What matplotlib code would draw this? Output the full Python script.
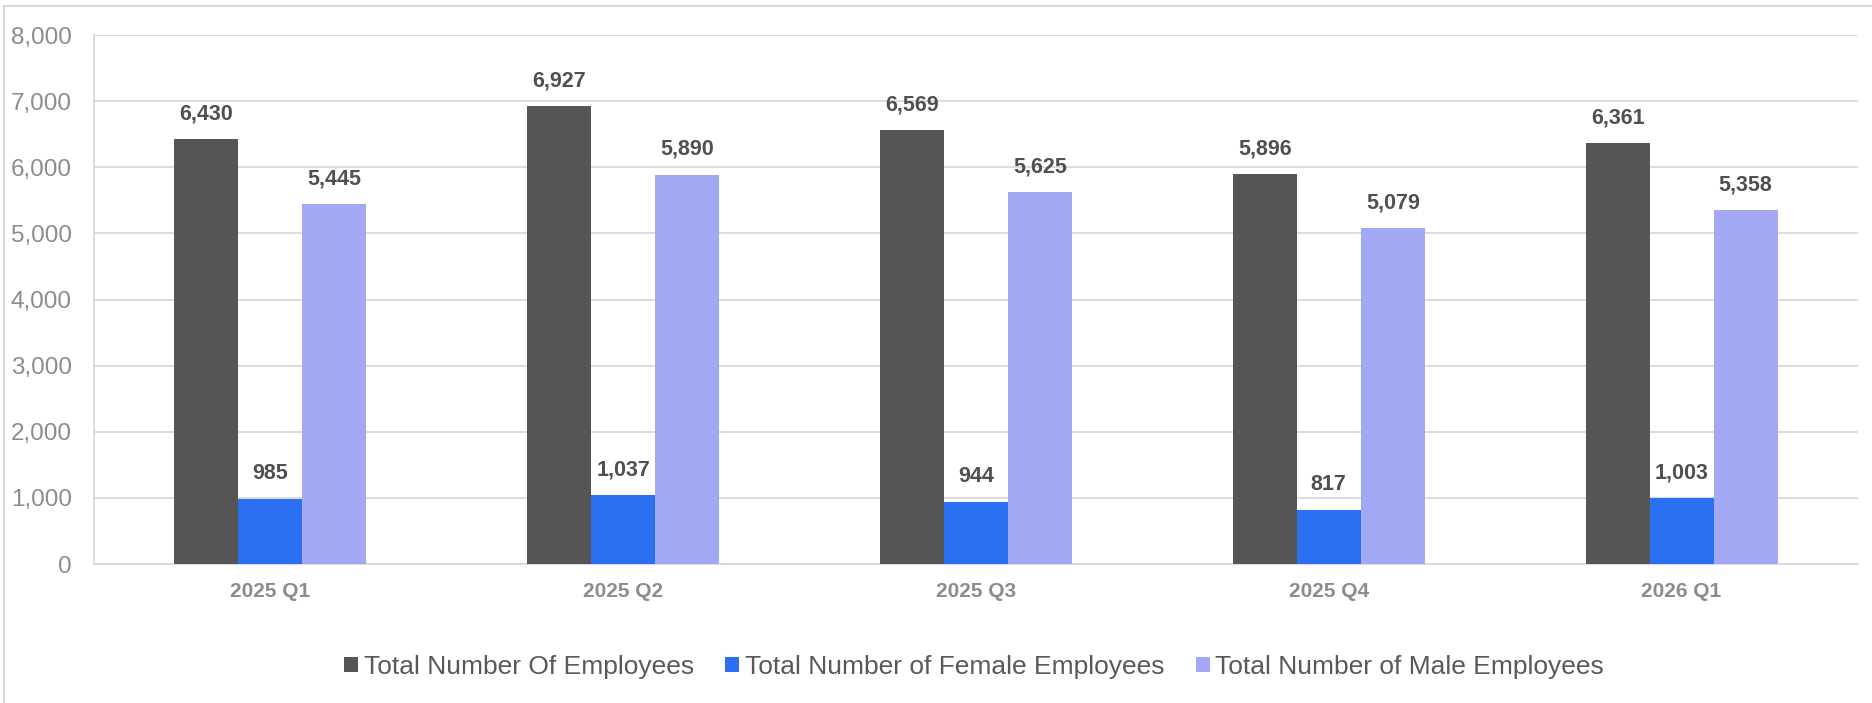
import matplotlib
matplotlib.use('Agg')
import matplotlib.pyplot as plt
from matplotlib.lines import Line2D
from matplotlib.ticker import FuncFormatter
import numpy as np

plt.rcParams['font.family'] = 'Liberation Sans'

quarters = ['2025 Q1', '2025 Q2', '2025 Q3', '2025 Q4', '2026 Q1']
total = [6430, 6927, 6569, 5896, 6361]
female = [985, 1037, 944, 817, 1003]
male = [5445, 5890, 5625, 5079, 5358]

series_names = ['Total Number Of Employees',
                'Total Number of Female Employees',
                'Total Number of Male Employees']
colors = ['#555555', '#2b6ff3', '#a3a8f4']

fig = plt.figure(figsize=(18.72, 7.03), dpi=100)
ax = fig.add_axes([0.0502, 0.1977, 0.9423, 0.7525])

x = np.arange(len(quarters))
w = 0.1814
bars = []
for k, (vals, name, c) in enumerate(zip([total, female, male], series_names, colors)):
    b = ax.bar(x + (k - 1) * w, vals, width=w, color=c, label=name, zorder=3)
    bars.append(b)
    for xi, v in zip(x + (k - 1) * w, vals):
        ax.annotate(f'{v:,}', (xi, v), xytext=(0, 10.5), textcoords='offset points',
                    ha='center', va='bottom', fontsize=15.5, fontweight='bold',
                    color='#505050')

ax.set_xlim(-0.5, len(quarters) - 0.5)
ax.set_ylim(0, 8000)
ax.set_yticks(range(0, 8001, 1000))
ax.yaxis.set_major_formatter(FuncFormatter(lambda v, p: f'{int(v):,}'))
ax.set_xticks(x)
ax.set_xticklabels(quarters, fontweight='bold')

ax.grid(axis='y', color='#d9d9d9', linewidth=1.3, zorder=0)
ax.tick_params(axis='y', length=0, pad=16, labelsize=17.5, labelcolor='#8c8c8c')
ax.tick_params(axis='x', length=0, pad=13, labelsize=15, labelcolor='#8c8c8c')
for s in ['top', 'right']:
    ax.spines[s].set_visible(False)
ax.spines['left'].set_color('#d9d9d9')
ax.spines['bottom'].set_color('#d9d9d9')
ax.spines['left'].set_linewidth(1.3)
ax.spines['bottom'].set_linewidth(1.3)

fig.legend(handles=bars, labels=series_names, loc='center',
           bbox_to_anchor=(974 / 1872, 1 - 667 / 703), ncol=3, frameon=False,
           fontsize=19, labelcolor='#595959', handlelength=0.53,
           handleheight=0.53, handletextpad=0.2, columnspacing=1.2)

# outer chart frame
fig.add_artist(Line2D([4 / 1872, 1], [1 - 5.5 / 703, 1 - 5.5 / 703],
                      color='#d9d9d9', linewidth=1.5))
fig.add_artist(Line2D([4 / 1872, 4 / 1872], [0, 1 - 5.5 / 703],
                      color='#d9d9d9', linewidth=1.5))

fig.savefig('out.png', dpi=100)
